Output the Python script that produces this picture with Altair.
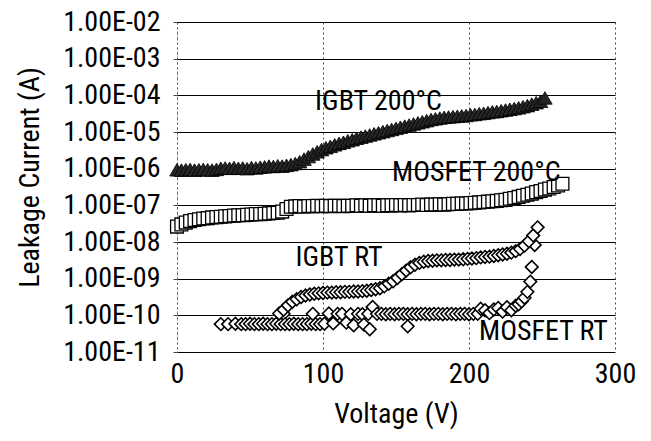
import altair as alt
import pandas as pd

# ---------------- data ----------------
# voltages (V) and log10 of leakage current (A)
igbt200_v = [0, 3, 6, 9, 12, 15, 18, 21, 24, 27, 30, 33, 36, 39, 42, 45, 48, 51, 54, 57,
             60, 63, 66, 69, 72, 75, 78, 81, 84, 87, 90, 93, 96, 99, 102, 105, 108, 111, 114, 117,
             120, 123, 126, 129, 132, 135, 138, 141, 144, 147, 150, 153, 156, 159, 162, 165, 168, 171, 174, 177,
             180, 183, 186, 189, 192, 195, 198, 201, 204, 207, 210, 213, 216, 219, 222, 225, 228, 231, 234, 237,
             240, 243, 246, 249, 252]
igbt200_log = [-6.03, -6.04, -6.03, -6.02, -6.04, -6.03, -6.02, -6.03, -6.04, -6.02, -5.99, -5.98, -5.99, -5.97, -5.99, -5.98, -6.00, -5.97, -5.98, -5.96,
               -5.95, -5.93, -5.94, -5.92, -5.93, -5.91, -5.89, -5.86, -5.81, -5.74, -5.67, -5.60, -5.54, -5.48, -5.43, -5.39, -5.35, -5.31, -5.28, -5.24,
               -5.21, -5.17, -5.14, -5.11, -5.08, -5.05, -5.02, -4.99, -4.96, -4.93, -4.90, -4.87, -4.84, -4.81, -4.78, -4.75, -4.72, -4.69, -4.66, -4.64,
               -4.62, -4.60, -4.59, -4.58, -4.57, -4.56, -4.55, -4.53, -4.52, -4.50, -4.49, -4.47, -4.45, -4.44, -4.42, -4.40, -4.38, -4.36, -4.34, -4.31,
               -4.28, -4.24, -4.20, -4.16, -4.07]

mosfet200_v = [0, 3, 6, 9, 12, 15, 18, 21, 24, 27, 30, 33, 36, 39, 42, 45, 48, 51, 54, 57,
               60, 63, 66, 69, 72, 75, 78, 81, 84, 87, 90, 93, 96, 99, 102, 105, 108, 111, 114, 117,
               120, 123, 126, 129, 132, 135, 138, 141, 144, 147, 150, 153, 156, 159, 162, 165, 168, 171, 174, 177,
               180, 183, 186, 189, 192, 195, 198, 201, 204, 207, 210, 213, 216, 219, 222, 225, 228, 231, 234, 237,
               240, 243, 246, 249, 252, 255, 258, 261, 264]
mosfet200_log = [-7.58, -7.52, -7.47, -7.43, -7.40, -7.38, -7.36, -7.35, -7.33, -7.32, -7.31, -7.30, -7.29, -7.28, -7.27, -7.27, -7.26, -7.25, -7.24, -7.24,
                 -7.23, -7.22, -7.21, -7.20, -7.17, -7.10, -7.04, -7.03, -7.02, -7.03, -7.02, -7.02, -7.01, -7.02, -7.01, -7.02, -7.01, -7.01, -7.02, -7.01,
                 -7.01, -7.00, -7.01, -7.00, -7.01, -7.00, -7.00, -7.01, -7.00, -7.00, -6.99, -7.00, -6.99, -7.00, -6.99, -6.99, -6.98, -6.99, -6.98, -6.98,
                 -6.97, -6.98, -6.97, -6.96, -6.96, -6.95, -6.95, -6.94, -6.93, -6.92, -6.91, -6.90, -6.89, -6.88, -6.86, -6.85, -6.82, -6.80, -6.77, -6.74,
                 -6.71, -6.68, -6.64, -6.61, -6.57, -6.54, -6.50, -6.46, -6.41]

igbtrt_v = [70, 73, 76, 79, 82, 85, 88, 91, 94, 97, 100, 103, 106, 109, 112, 115, 118, 121, 124, 127,
            130, 133, 136, 139, 142, 145, 148, 151, 154, 157, 160, 163, 166, 169, 172, 175, 178, 181, 184, 187,
            190, 193, 196, 199, 202, 205, 208, 211, 214, 217, 220, 223, 226, 229, 232, 235, 238, 241, 244, 247]
igbtrt_log = [-9.95, -9.85, -9.73, -9.63, -9.56, -9.50, -9.46, -9.43, -9.41, -9.40, -9.39, -9.38, -9.38, -9.37, -9.37, -9.36, -9.36, -9.35, -9.35, -9.34,
              -9.33, -9.31, -9.29, -9.26, -9.21, -9.14, -9.07, -8.98, -8.88, -8.78, -8.69, -8.62, -8.57, -8.54, -8.52, -8.51, -8.50, -8.50, -8.49, -8.49,
              -8.48, -8.48, -8.47, -8.46, -8.45, -8.44, -8.42, -8.41, -8.40, -8.38, -8.36, -8.34, -8.32, -8.29, -8.25, -8.19, -8.10, -7.98, -7.82, -7.60]

mosfetrt_v = [30, 35, 40, 44, 47, 50, 53, 56, 59, 62, 65, 68, 71, 73, 74, 77, 80, 83, 86, 89,
              92, 93, 95, 98, 101, 104, 107, 110, 113, 116, 119, 121, 124, 127, 128, 131, 132, 134, 137, 140,
              143, 146, 149, 152, 155, 158, 158, 161, 164, 167, 170, 173, 176, 179, 182, 185, 188, 191, 194, 197,
              200, 203, 206, 208, 211, 214, 217, 220, 223, 226, 229, 232, 234, 236, 238, 240, 242, 243, 245]
mosfetrt_log = [-10.24, -10.24, -10.23, -10.24, -10.24, -10.23, -10.24, -10.24, -10.23, -10.24, -10.24, -10.23, -10.24, -9.96, -10.24, -10.24, -10.23, -10.24, -10.24, -10.24,
                -10.23, -9.96, -10.24, -10.24, -10.23, -9.95, -10.22, -9.96, -9.96, -10.20, -9.97, -10.27, -9.96, -9.97, -10.25, -9.96, -10.38, -9.77, -9.96, -9.96,
                -9.97, -9.96, -9.97, -9.96, -9.96, -9.97, -10.30, -9.96, -9.97, -9.96, -9.96, -9.97, -9.96, -9.96, -9.97, -9.96, -9.96, -9.97, -9.96, -9.96,
                -9.97, -9.96, -9.96, -9.82, -9.86, -9.94, -9.84, -9.80, -9.90, -9.78, -9.86, -9.74, -9.70, -9.62, -9.52, -9.36, -9.08, -8.68, -8.08]

label_text = ["IGBT 200°C", "MOSFET 200°C", "IGBT RT", "MOSFET RT"]
label_v = [138, 205, 111, 251]
label_current = [6.6e-5, 7.8e-7, 3.7e-9, 3.5e-11]

x_ticks = [0, 100, 200, 300]
y_tick_values = [1e-2, 1e-3, 1e-4, 1e-5, 1e-6, 1e-7, 1e-8, 1e-9, 1e-10, 1e-11]
y_tick_labels = ["1.00E-02", "1.00E-03", "1.00E-04", "1.00E-05", "1.00E-06",
                 "1.00E-07", "1.00E-08", "1.00E-09", "1.00E-10", "1.00E-11"]

# ---------------- chart ----------------
FONT = "Liberation Sans Narrow, Roboto Condensed, DejaVu Sans Condensed, Liberation Sans, sans-serif"


def frame(v, lg):
    return pd.DataFrame({"voltage": v, "current": [10 ** e for e in lg]})


label_arr = "[" + ",".join("'%s'" % s for s in y_tick_labels) + "]"
label_expr = label_arr + "[round(-log(datum.value)/LN10) - 2]"

x_enc = alt.X("voltage:Q",
              scale=alt.Scale(domain=[0, 300], nice=False, zero=False),
              axis=alt.Axis(values=x_ticks, title="Voltage (V)", grid=True,
                            gridDash=[2, 3], gridColor="#444", gridWidth=1,
                            domain=False, ticks=False, labelPadding=8,
                            labelFlush=False, titleY=70, titleBaseline="alphabetic"))
y_enc = alt.Y("current:Q",
              scale=alt.Scale(type="log", domain=[1e-11, 1e-2], nice=False),
              axis=alt.Axis(values=y_tick_values, labelExpr=label_expr,
                            title="Leakage Current (A)", grid=True,
                            gridColor="black", gridWidth=1, gridOpacity=1,
                            domain=True, domainDash=[1, 3], domainColor="#777",
                            ticks=True, tickSize=4, tickColor="#444",
                            labelPadding=13, labelAlign="right", labelBaseline="middle",
                            titleX=-139, titleY=155, titleAngle=270,
                            titleAlign="center", titleBaseline="alphabetic"))

igbt200 = alt.Chart(frame(igbt200_v, igbt200_log)).mark_point(
    shape="triangle-up", filled=True, fill="#262626", stroke="black",
    strokeWidth=0.8, size=210, opacity=1).encode(x=x_enc, y=y_enc)

mosfet200 = alt.Chart(frame(mosfet200_v, mosfet200_log)).mark_point(
    shape="square", filled=True, fill="white", stroke="black",
    strokeWidth=1.3, size=165, opacity=1).encode(x=x_enc, y=y_enc)

mosfetrt = alt.Chart(frame(mosfetrt_v, mosfetrt_log)).mark_point(
    shape="diamond", filled=True, fill="white", stroke="black",
    strokeWidth=1.6, size=160, opacity=1).encode(x=x_enc, y=y_enc)

igbtrt = alt.Chart(frame(igbtrt_v, igbtrt_log)).mark_point(
    shape="diamond", filled=True, fill="white", stroke="black",
    strokeWidth=1.6, size=160, opacity=1).encode(x=x_enc, y=y_enc)

labels = alt.Chart(pd.DataFrame({"voltage": label_v, "current": label_current,
                                 "text": label_text})).mark_text(
    font=FONT, fontSize=28, color="black", align="center", baseline="middle"
).encode(x=x_enc, y=y_enc, text="text:N")

chart = alt.layer(mosfet200, igbt200, mosfetrt, igbtrt, labels).properties(
    width=438, height=330,
    autosize=alt.AutoSizeParams(type="none"),
    padding={"left": 177, "top": 22, "right": 36, "bottom": 89},
).configure_view(stroke=None).configure_axis(
    labelFont=FONT, titleFont=FONT, labelFontSize=28, titleFontSize=28,
    labelColor="black", titleColor="black", titleFontWeight="normal",
)

chart.save("out.html", embed_options={"renderer": "svg", "actions": False})
